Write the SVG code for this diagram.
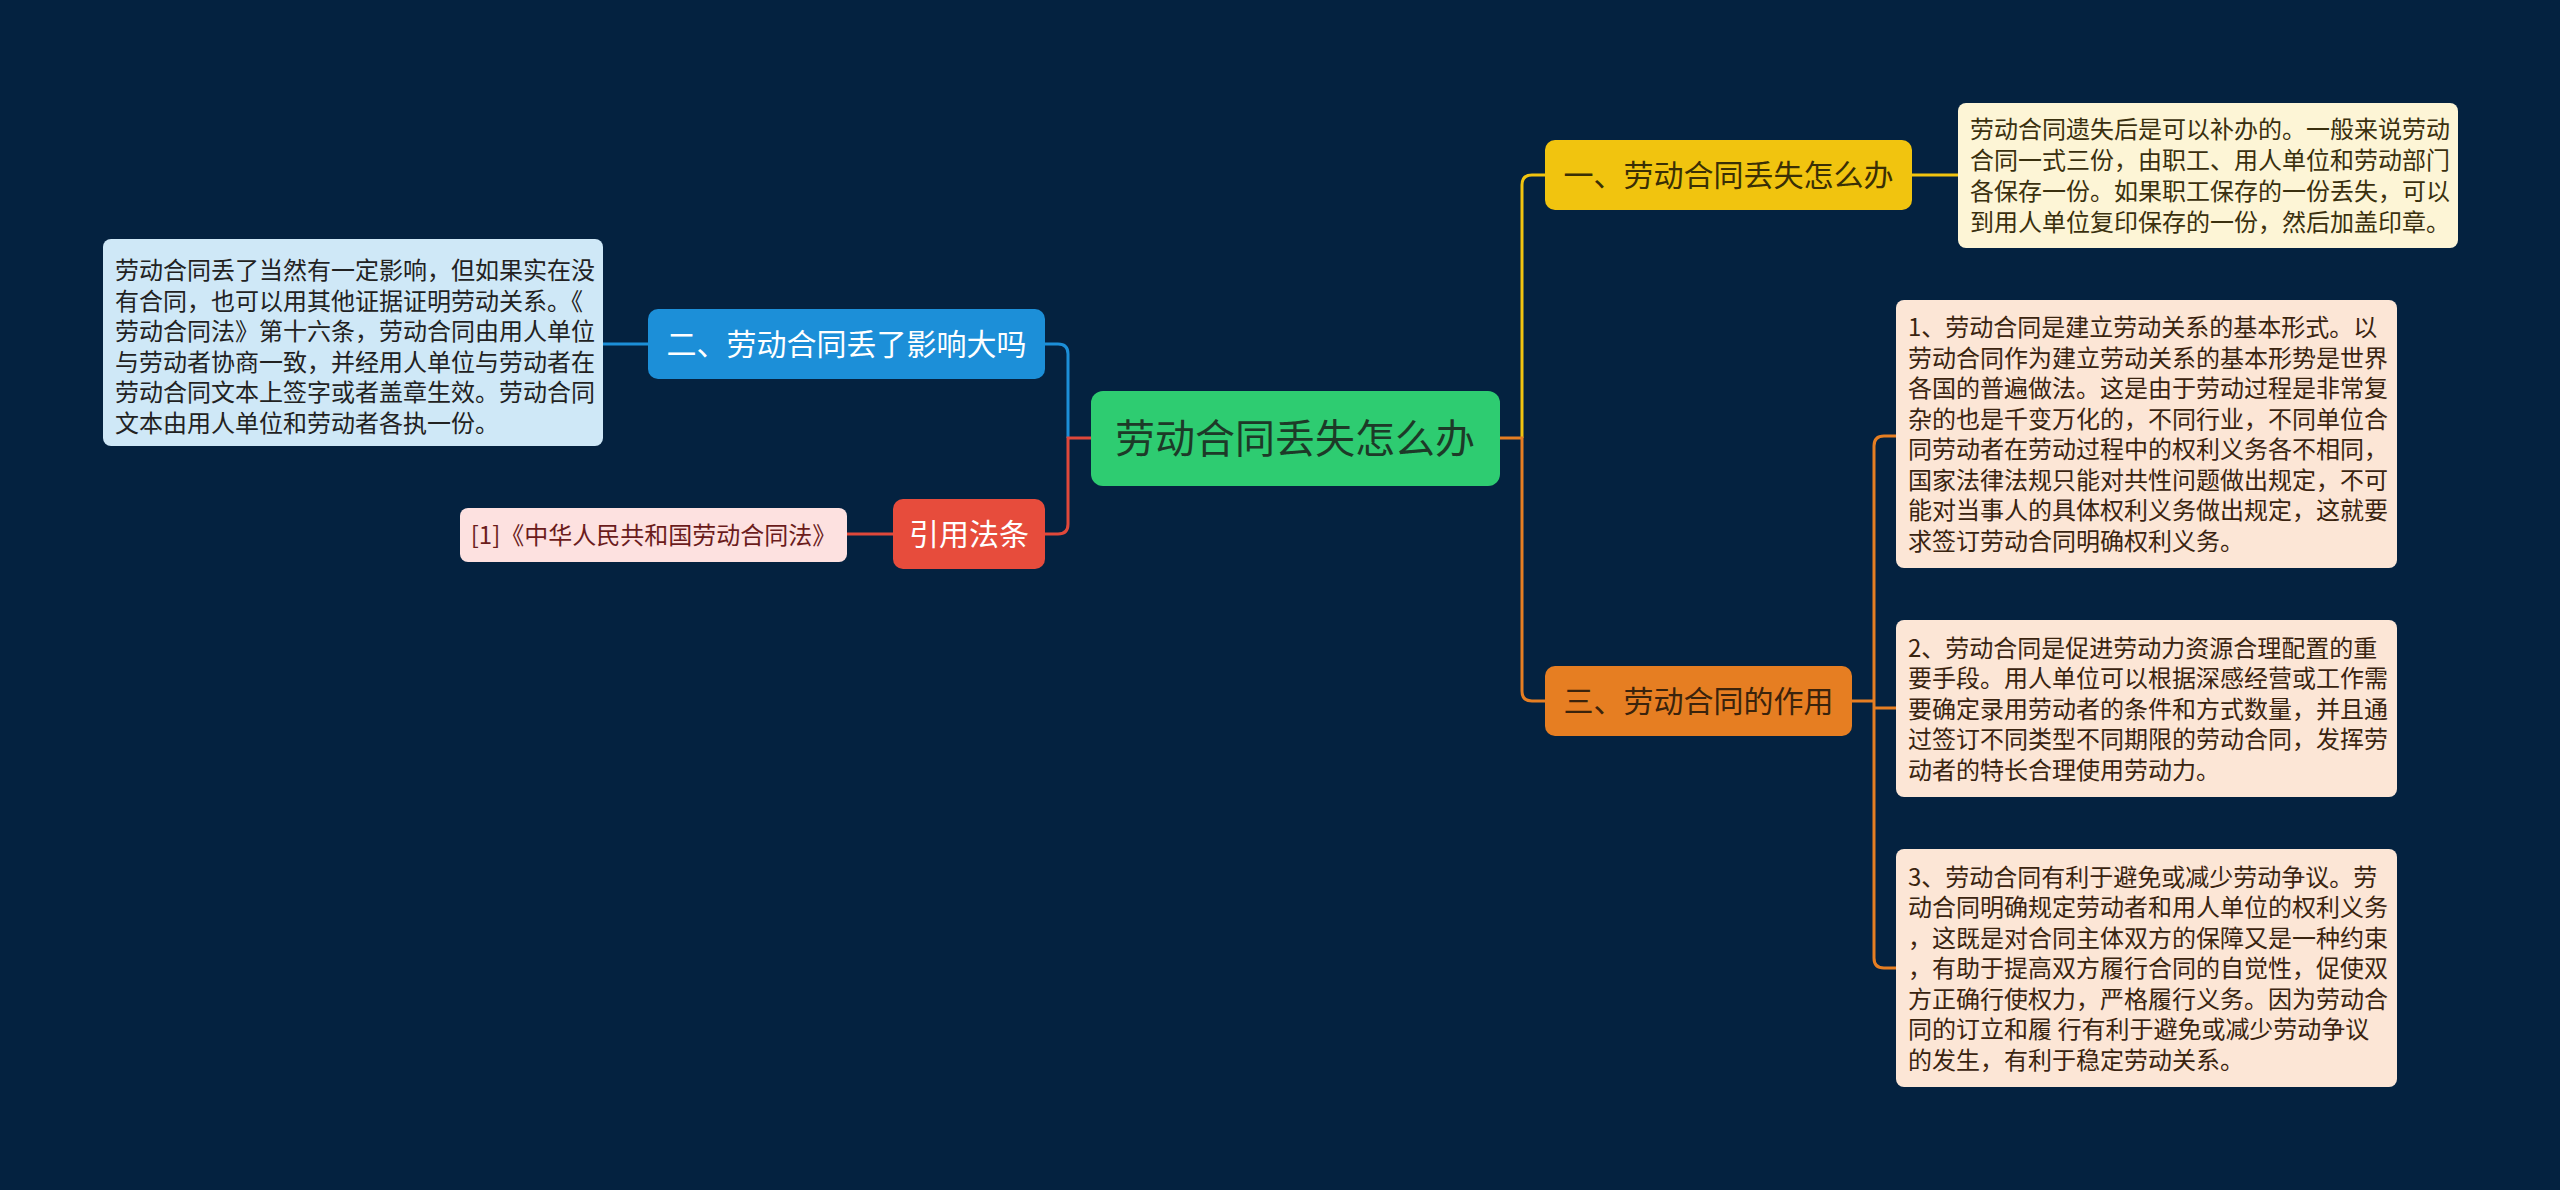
<svg xmlns="http://www.w3.org/2000/svg" width="2560" height="1190" viewBox="0 0 2560 1190">
<style>
.t{font-family:"Noto Sans CJK SC","Noto Sans",sans-serif;}
.main{font-size:30px;}
.desc{font-size:24px;}
.c{fill:none;stroke-width:3;}
</style>
<rect width="2560" height="1190" fill="#042240"/>
<g id="connectors">
<path class="c" stroke="#1c8fd8" d="M1045,344 H1058 Q1068,344 1068,354 V438"/>
<path class="c" stroke="#e0483a" d="M1091,438 H1068 V524 Q1068,534 1058,534 H1045"/>
<path class="c" stroke="#1c8fd8" d="M648,344 H603"/>
<path class="c" stroke="#e0483a" d="M893,534 H847"/>
<path class="c" stroke="#f1c40f" d="M1522,438 V185 Q1522,175 1532,175 H1545"/>
<path class="c" stroke="#e67e22" d="M1500,438 H1522 V691 Q1522,701 1532,701 H1545"/>
<path class="c" stroke="#f1c40f" d="M1912,175 H1958"/>
<path class="c" stroke="#e67e22" d="M1852,701 H1874"/>
<path class="c" stroke="#e67e22" d="M1896,436 H1884 Q1874,436 1874,446 V958 Q1874,968 1884,968 H1896"/>
<path class="c" stroke="#e67e22" d="M1874,708 H1896"/>
</g>
<g id="root">
<rect x="1091" y="391" width="409" height="95" rx="12" fill="#2ecc71"/>
<text class="t" x="1295" y="453" font-size="40" text-anchor="middle" fill="#1d3a28">劳动合同丢失怎么办</text>
</g>
<g id="n1">
<rect x="1545" y="140" width="367" height="70" rx="10" fill="#f1c40f"/>
<text class="t main" x="1728.5" y="186" text-anchor="middle" fill="#3a2f05">一、劳动合同丢失怎么办</text>
</g>
<g id="n1d">
<rect x="1958" y="103" width="500" height="145" rx="8" fill="#fdf5d6"/>
<text class="t desc" fill="#3a300e">
<tspan x="1970" y="138">劳动合同遗失后是可以补办的。一般来说劳动</tspan>
<tspan x="1970" y="169">合同一式三份，由职工、用人单位和劳动部门</tspan>
<tspan x="1970" y="200">各保存一份。如果职工保存的一份丢失，可以</tspan>
<tspan x="1970" y="231">到用人单位复印保存的一份，然后加盖印章。</tspan>
</text>
</g>
<g id="n2">
<rect x="648" y="309" width="397" height="70" rx="10" fill="#1c8fd8"/>
<text class="t main" x="846.5" y="355" text-anchor="middle" fill="#ffffff">二、劳动合同丢了影响大吗</text>
</g>
<g id="n2d">
<rect x="103" y="239" width="500" height="207" rx="8" fill="#cfe8f7"/>
<text class="t desc" fill="#222222">
<tspan x="115" y="279">劳动合同丢了当然有一定影响，但如果实在没</tspan>
<tspan x="115" y="309.5">有合同，也可以用其他证据证明劳动关系。《</tspan>
<tspan x="115" y="340">劳动合同法》第十六条，劳动合同由用人单位</tspan>
<tspan x="115" y="370.5">与劳动者协商一致，并经用人单位与劳动者在</tspan>
<tspan x="115" y="401">劳动合同文本上签字或者盖章生效。劳动合同</tspan>
<tspan x="115" y="431.5">文本由用人单位和劳动者各执一份。</tspan>
</text>
</g>
<g id="n3">
<rect x="1545" y="666" width="307" height="70" rx="10" fill="#e67e22"/>
<text class="t main" x="1698.5" y="712" text-anchor="middle" fill="#3a230c">三、劳动合同的作用</text>
</g>
<g id="n3a">
<rect x="1896" y="300" width="501" height="268" rx="8" fill="#fce6d6"/>
<text class="t desc" fill="#3a2410">
<tspan x="1908" y="336">1、劳动合同是建立劳动关系的基本形式。以</tspan>
<tspan x="1908" y="366.5">劳动合同作为建立劳动关系的基本形势是世界</tspan>
<tspan x="1908" y="397">各国的普遍做法。这是由于劳动过程是非常复</tspan>
<tspan x="1908" y="427.5">杂的也是千变万化的，不同行业，不同单位合</tspan>
<tspan x="1908" y="458">同劳动者在劳动过程中的权利义务各不相同，</tspan>
<tspan x="1908" y="488.5">国家法律法规只能对共性问题做出规定，不可</tspan>
<tspan x="1908" y="519">能对当事人的具体权利义务做出规定，这就要</tspan>
<tspan x="1908" y="549.5">求签订劳动合同明确权利义务。</tspan>
</text>
</g>
<g id="n3b">
<rect x="1896" y="620" width="501" height="177" rx="8" fill="#fce6d6"/>
<text class="t desc" fill="#3a2410">
<tspan x="1908" y="656.5">2、劳动合同是促进劳动力资源合理配置的重</tspan>
<tspan x="1908" y="687">要手段。用人单位可以根据深感经营或工作需</tspan>
<tspan x="1908" y="717.5">要确定录用劳动者的条件和方式数量，并且通</tspan>
<tspan x="1908" y="748">过签订不同类型不同期限的劳动合同，发挥劳</tspan>
<tspan x="1908" y="778.5">动者的特长合理使用劳动力。</tspan>
</text>
</g>
<g id="n3c">
<rect x="1896" y="849" width="501" height="238" rx="8" fill="#fce6d6"/>
<text class="t desc" fill="#3a2410" style="white-space:pre">
<tspan x="1908" y="885.5">3、劳动合同有利于避免或减少劳动争议。劳</tspan>
<tspan x="1908" y="916">动合同明确规定劳动者和用人单位的权利义务</tspan>
<tspan x="1908" y="946.5">，这既是对合同主体双方的保障又是一种约束</tspan>
<tspan x="1908" y="977">，有助于提高双方履行合同的自觉性，促使双</tspan>
<tspan x="1908" y="1007.5">方正确行使权力，严格履行义务。因为劳动合</tspan>
<tspan x="1908" y="1038">同的订立和履 行有利于避免或减少劳动争议</tspan>
<tspan x="1908" y="1068.5">的发生，有利于稳定劳动关系。</tspan>
</text>
</g>
<g id="n4">
<rect x="893" y="499" width="152" height="70" rx="10" fill="#e74c3c"/>
<text class="t main" x="969" y="545" text-anchor="middle" fill="#ffffff">引用法条</text>
</g>
<g id="n4d">
<rect x="460" y="508" width="387" height="54" rx="8" fill="#fde1e0"/>
<text class="t desc" x="653.5" y="544" text-anchor="middle" fill="#6b1c1c">[1]《中华人民共和国劳动合同法》</text>
</g>
</svg>
